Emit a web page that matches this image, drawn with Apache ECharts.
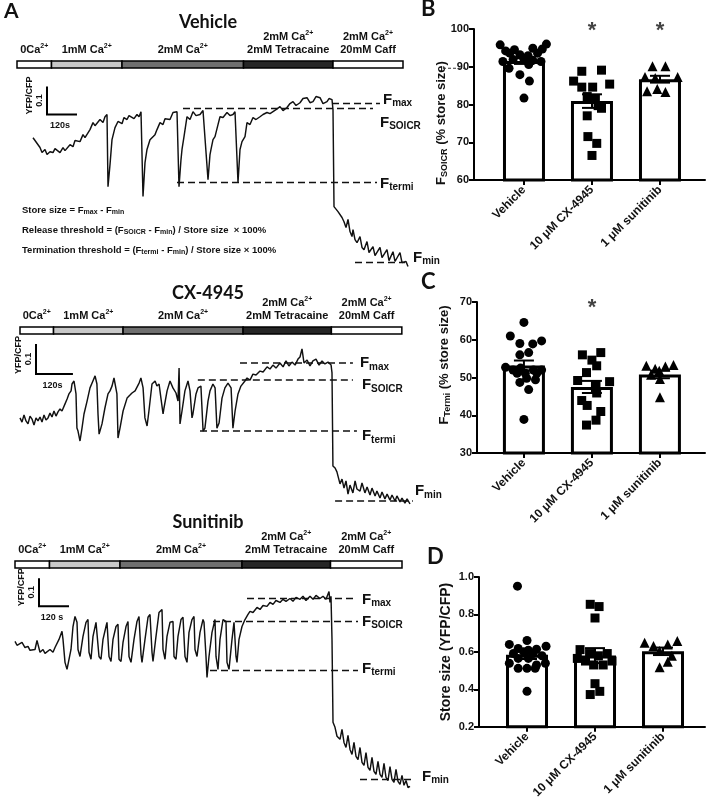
<!DOCTYPE html>
<html>
<head>
<meta charset="utf-8">
<script src="https://cdn.jsdelivr.net/npm/echarts@6/dist/echarts.min.js"></script>
<style>
html,body{margin:0;padding:0;background:#fff;}
#main{width:709px;height:801px;}
</style>
</head>
<body>
<div id="main"></div>
<script>
const ARIAL = '"Liberation Sans", Arial, sans-serif'
const HEAD = 'Lato, "Open Sans", sans-serif'

// ---- traces: [time (s), YFP/CFP] ----
const vehicleTrace = [
  [132,1.446],[140,1.436],[148,1.429],[160,1.411],[168,1.393],[180,1.404],[188,1.386],[200,1.396],[212,1.393],[220,1.407],
  [228,1.404],[240,1.393],[252,1.411],[260,1.4],[268,1.404],[280,1.421],[292,1.414],[300,1.436],[308,1.439],[320,1.432],
  [332,1.457],[340,1.446],[348,1.45],[360,1.475],[372,1.5],[380,1.489],[388,1.486],[400,1.511],[412,1.5],[420,1.521],
  [428,1.529],[432,1.271],[440,1.35],[448,1.439],[460,1.482],[472,1.504],[480,1.507],[488,1.496],[496,1.518],[508,1.511],
  [516,1.525],[524,1.521],[536,1.514],[548,1.529],[556,1.521],[564,1.539],[572,1.236],[580,1.357],[588,1.404],[600,1.439],
  [608,1.446],[620,1.457],[628,1.475],[640,1.5],[652,1.493],[660,1.514],[668,1.518],[680,1.511],[692,1.536],[700,1.529],
  [708,1.539],[716,1.271],[724,1.368],[728,1.404],[736,1.45],[748,1.521],[760,1.511],[772,1.539],[784,1.525],[800,1.529],
  [812,1.543],[820,1.546],[832,1.296],[840,1.386],[844,1.404],[852,1.439],[860,1.45],[872,1.493],[880,1.521],[892,1.518],
  [908,1.536],[920,1.525],[932,1.529],[940,1.539],[948,1.546],[952,1.286],[960,1.404],[968,1.432],[980,1.45],[988,1.5],
  [1000,1.493],[1012,1.518],[1024,1.511],[1040,1.521],[1052,1.529],[1068,1.536],[1080,1.532],[1092,1.539],[1104,1.546],[1120,1.557],
  [1132,1.543],[1148,1.554],[1160,1.568],[1172,1.575],[1184,1.561],[1200,1.571],[1212,1.586],[1228,1.589],[1240,1.571],[1252,1.575],
  [1264,1.593],[1280,1.589],[1292,1.568],[1308,1.575],[1316,1.586],[1328,1.582],[1332,1.546],[1336,1.2],[1344,1.193],[1352,1.182],
  [1360,1.175],[1368,1.161],[1376,1.146],[1384,1.125],[1392,1.154],[1400,1.111],[1408,1.093],[1412,1.118],[1420,1.082],[1428,1.071],
  [1440,1.093],[1448,1.054],[1456,1.046],[1468,1.075],[1476,1.036],[1484,1.029],[1492,1.057],[1500,1.025],[1508,1.018],[1520,1.054],
  [1528,1.018],[1536,1.011],[1548,1.046],[1556,1.007],[1564,1.004],[1572,1.039],[1580,1.004],[1588,1.0],[1600,1.036],[1608,1.0],
  [1616,0.993],[1624,1.004],[1632,0.986]
]
const cx4945Trace = [
  [65,1.277],[71.5,1.263],[78,1.287],[84.5,1.267],[91,1.257],[97.5,1.283],[104,1.273],[110.5,1.253],[117,1.277],[123.5,1.267],
  [130,1.28],[136.5,1.263],[143,1.287],[149.5,1.27],[156,1.277],[162.5,1.293],[169,1.28],[175.5,1.3],[182,1.283],[188.5,1.297],
  [195,1.307],[201.5,1.3],[211,1.323],[218,1.34],[224,1.357],[231,1.367],[234,1.39],[240.5,1.4],[247,1.357],[250,1.243],
  [253.5,1.233],[260,1.2],[266.5,1.243],[273,1.29],[283,1.333],[292.5,1.377],[302,1.4],[309,1.417],[315,1.39],[318.5,1.29],
  [322,1.223],[331.5,1.257],[341,1.31],[351,1.357],[357.5,1.367],[364,1.383],[370.5,1.41],[380,1.357],[383.5,1.21],[390,1.243],
  [400,1.3],[413,1.343],[422.5,1.353],[429,1.36],[439,1.367],[445,1.373],[452,1.393],[458,1.41],[465,1.377],[471,1.277],
  [478,1.25],[484,1.3],[494,1.39],[504,1.4],[510,1.383],[517,1.39],[523,1.343],[530,1.29],[533,1.31],[543,1.367],
  [552.5,1.4],[562,1.377],[572,1.36],[578.5,1.333],[582,1.443],[585,1.257],[591.5,1.3],[601,1.367],[611,1.4],[617.5,1.367],
  [624,1.277],[627,1.29],[637,1.357],[643.5,1.377],[653,1.383],[660,1.233],[666,1.243],[676,1.333],[682.5,1.367],[692,1.39],
  [699,1.377],[705,1.243],[712,1.26],[721.5,1.343],[731,1.377],[741,1.393],[751,1.377],[757,1.243],[764,1.3],[773.5,1.357],
  [783,1.383],[796,1.4],[803,1.41],[812.5,1.403],[822,1.423],[832,1.42],[845,1.433],[855,1.43],[868,1.447],[877.5,1.44],
  [887,1.453],[897,1.443],[910,1.46],[920,1.447],[929.5,1.467],[939,1.45],[949,1.463],[959,1.453],[968.5,1.473],[975,1.48],
  [981.5,1.507],[988,1.46],[998,1.47],[1007.5,1.45],[1017,1.467],[1027,1.473],[1037,1.453],[1046.5,1.467],[1056,1.457],[1066,1.463],
  [1076,1.453],[1079,1.427],[1082,1.117],[1089,1.11],[1095,1.097],[1105,1.057],[1111.5,1.073],[1118,1.043],[1124.5,1.067],[1131,1.023],
  [1137.5,1.053],[1147,1.027],[1154,1.067],[1160,1.04],[1170,1.033],[1176.5,1.06],[1186,1.027],[1193,1.047],[1202.5,1.02],[1209,1.043],
  [1219,1.017],[1225,1.033],[1235,1.01],[1241.5,1.03],[1251,1.007],[1258,1.023],[1267.5,1.003],[1274,1.02],[1284,1.0],[1290,1.017],
  [1300,0.997],[1306.5,1.01],[1316,0.993],[1323,1.007],[1332.5,0.99]
]
const sunitinibTrace = [
  [60,1.493],[68,1.479],[76,1.486],[88,1.489],[100,1.471],[112,1.475],[120,1.461],[128,1.457],[140,1.464],[148,1.496],
  [152,1.482],[160,1.454],[172,1.464],[180,1.45],[188,1.446],[200,1.464],[212,1.454],[220,1.471],[228,1.464],[236,1.5],
  [248,1.529],[252,1.5],[260,1.418],[268,1.393],[272,1.4],[284,1.464],[292,1.546],[300,1.582],[308,1.561],[312,1.464],
  [320,1.439],[332,1.511],[344,1.561],[352,1.571],[356,1.454],[364,1.429],[372,1.511],[384,1.561],[388,1.564],[396,1.439],
  [404,1.429],[412,1.5],[424,1.546],[428,1.561],[436,1.439],[444,1.421],[452,1.5],[464,1.546],[472,1.554],[476,1.429],
  [484,1.421],[492,1.489],[504,1.546],[512,1.564],[516,1.439],[524,1.418],[536,1.5],[548,1.564],[556,1.582],[564,1.446],
  [568,1.418],[580,1.5],[592,1.579],[600,1.589],[608,1.454],[612,1.421],[624,1.511],[636,1.596],[648,1.607],[652,1.464],
  [660,1.429],[668,1.511],[680,1.561],[692,1.564],[696,1.439],[704,1.429],[712,1.511],[724,1.571],[732,1.579],[740,1.439],
  [748,1.418],[756,1.525],[768,1.571],[776,1.582],[780,1.464],[788,1.439],[800,1.525],[812,1.571],[816,1.561],[824,1.439],
  [828,1.364],[836,1.439],[848,1.525],[860,1.571],[864,1.439],[872,1.393],[880,1.5],[892,1.571],[904,1.564],[908,1.418],
  [916,1.393],[928,1.5],[936,1.561],[944,1.439],[948,1.418],[956,1.5],[968,1.546],[980,1.571],[992,1.589],[1000,1.6],
  [1012,1.596],[1028,1.614],[1040,1.607],[1052,1.621],[1068,1.618],[1080,1.632],[1092,1.625],[1104,1.639],[1120,1.632],[1132,1.643],
  [1144,1.636],[1160,1.646],[1172,1.636],[1184,1.65],[1200,1.643],[1212,1.654],[1224,1.639],[1240,1.654],[1252,1.643],[1264,1.657],
  [1280,1.646],[1292,1.654],[1304,1.643],[1316,1.671],[1320,1.632],[1324,1.654],[1328,1.5],[1332,1.204],[1340,1.186],[1348,1.154],
  [1360,1.143],[1368,1.179],[1376,1.132],[1384,1.114],[1392,1.157],[1400,1.107],[1408,1.089],[1416,1.132],[1424,1.082],[1432,1.071],
  [1440,1.114],[1448,1.061],[1456,1.05],[1464,1.096],[1472,1.043],[1480,1.032],[1488,1.079],[1496,1.029],[1504,1.018],[1512,1.064],
  [1520,1.018],[1528,1.007],[1536,1.057],[1544,1.007],[1552,0.996],[1560,1.046],[1568,1.0],[1576,0.989],[1584,1.036],[1592,0.993],
  [1600,0.982],[1608,1.014],[1616,0.979],[1624,0.996],[1632,0.971],[1640,0.975]
]

// F levels: max, SOICR, termi, min (YFP/CFP) and their dashed spans (s)
const levelNames = ['max', 'SOICR', 'termi', 'min']
const vehicleLevels = [1.568, 1.55, 1.286, 1.0]
const vehicleLevelSpans = [[1328, 1520], [732, 1492], [708, 1508], [1420, 1620]]
const cx4945Levels = [1.46, 1.403, 1.233, 1.0]
const cx4945LevelSpans = [[780, 1147], [643, 1147], [650, 1160], [1089, 1342]]
const sunitinibLevels = [1.646, 1.564, 1.389, 1.0]
const sunitinibLevelSpans = [[988, 1412], [852, 1432], [840, 1432], [1440, 1660]]

// perfusion protocol (segment edges in s)
const protocolLabels = ['0Ca{sup|2+}', '1mM Ca{sup|2+}', '2mM Ca{sup|2+}', '2mM Ca{sup|2+}\n2mM Tetracaine', '2mM Ca{sup|2+}\n20mM Caff']
const vehicleProtocolEdges = [68, 206, 488, 974, 1332, 1612]
const cx4945ProtocolEdges = [65, 174, 400, 790, 1077, 1306]
const sunitinibProtocolEdges = [60, 198, 480, 968, 1322, 1608]
const scaleBarSec = 120
const scaleBarRatio = 0.1

// ---- summary panels ----
const groups = ['Vehicle', '10 \u03bcM CX-4945', '1 \u03bcM sunitinib']

const soicrMean = [91.5, 80.9, 86.7]
const soicrSem = [0.75, 1.8, 0.9]
const soicrVehicle = [95.8, 94.2, 94.5, 94.9, 94.7, 96.0, 93.6, 93.2, 92.9, 93.6, 91.4, 91.9, 92.0, 91.7, 91.4, 90.6, 89.6, 87.9, 86.2, 81.7]
const soicrCx = [86.2, 88.8, 89.1, 84.6, 84.6, 85.4, 82.1, 81.4, 79.7, 77.0, 79.0, 71.5, 69.7, 66.5]
const soicrSun = [90.1, 90.1, 87.3, 87.0, 87.3, 84.1, 83.5, 83.3]

const termiMean = [53.2, 47.5, 50.8]
const termiSem = [1.3, 1.6, 1.0]
const termiVehicle = [64.6, 61.0, 59.7, 59.0, 58.9, 56.6, 56.0, 52.7, 52.0, 52.5, 52.0, 52.0, 51.1, 51.1, 51.1, 49.8, 49.4, 48.7, 46.8, 38.9]
const termiCx = [56.0, 56.6, 54.6, 53.1, 51.3, 49.2, 48.9, 48.1, 45.9, 43.9, 42.6, 41.0, 38.7, 37.4]
const termiSun = [53.1, 52.3, 52.9, 53.3, 51.8, 50.7, 49.6, 44.8]

const storeMean = [0.584, 0.58, 0.603]
const storeSem = [0.022, 0.04, 0.02]
const storeVehicle = [0.951, 0.661, 0.640, 0.630, 0.618, 0.609, 0.614, 0.591, 0.600, 0.591, 0.579, 0.539, 0.565, 0.565, 0.539, 0.530, 0.512, 0.512, 0.512, 0.389]
const storeCx = [0.854, 0.842, 0.781, 0.612, 0.591, 0.579, 0.591, 0.565, 0.551, 0.530, 0.530, 0.551, 0.430, 0.389, 0.372]
const storeSun = [0.649, 0.632, 0.639, 0.658, 0.604, 0.579, 0.547, 0.518]

// horizontal scatter offsets of the dots (category units)
const soicrJitter = [
  [-0.35, -0.27, -0.14, 0.13, 0.27, 0.33, -0.21, -0.06, 0.06, 0.2, -0.31, -0.16, 0.0, 0.13, 0.25, 0.07, -0.22, -0.06, 0.08, 0.0],
  [-0.27, -0.15, 0.14, -0.15, 0.01, 0.26, -0.07, 0.05, 0.09, -0.07, 0.14, -0.06, 0.07, 0.0],
  [-0.11, 0.08, -0.22, -0.07, 0.26, -0.04, -0.19, 0.08]
]
const termiJitter = [
  [0.0, -0.2, 0.26, -0.06, 0.13, 0.07, -0.06, -0.27, -0.16, -0.05, 0.14, 0.26, -0.1, 0.02, 0.19, 0.04, 0.17, -0.06, 0.07, 0.0],
  [-0.14, 0.13, 0.0, 0.07, -0.08, -0.21, 0.26, 0.06, 0.07, -0.15, -0.07, 0.13, 0.06, -0.08],
  [-0.2, -0.07, 0.08, 0.2, -0.01, -0.13, 0.0, 0.0]
]
const storeJitter = [
  [-0.14, 0.0, -0.26, 0.28, -0.13, 0.02, 0.14, -0.2, -0.05, 0.09, 0.22, -0.26, -0.13, 0.02, 0.27, 0.14, -0.13, 0.0, 0.12, 0.0],
  [-0.07, 0.06, 0.0, -0.22, -0.08, 0.05, 0.18, -0.26, -0.14, -0.02, 0.12, 0.25, 0.0, 0.07, -0.07],
  [-0.27, -0.14, 0.07, 0.21, -0.05, 0.13, 0.07, -0.05]
]

// ---- layout ----
const traces = [
  {title: 'Vehicle', titleY: 22, data: vehicleTrace, levels: vehicleLevels, spans: vehicleLevelSpans, edges: vehicleProtocolEdges,
   top: 61, yMin: 0.95, yMax: 1.72, pxPerUnit: 280, secPerPx: 4, bar: [188, 1.529], barText: '120s',
   labelOffsets: [[3, -4], [7, 14], [3, 1], [8, -5]]},
  {title: 'CX-4945', titleY: 293, data: cx4945Trace, levels: cx4945Levels, spans: cx4945LevelSpans, edges: cx4945ProtocolEdges,
   top: 327, yMin: 0.95, yMax: 1.58, pxPerUnit: 300, secPerPx: 3.25, bar: [117, 1.423], barText: '120s',
   labelOffsets: [[7, 0], [9, 5], [5, 5], [2, -10]]},
  {title: 'Sunitinib', titleY: 522, data: sunitinibTrace, levels: sunitinibLevels, spans: sunitinibLevelSpans, edges: sunitinibProtocolEdges,
   top: 561, yMin: 0.95, yMax: 1.78, pxPerUnit: 280, secPerPx: 4, bar: [156, 1.618], barText: '120 s',
   labelOffsets: [[9, 1], [4, 0], [4, -2], [7, -3]]}
]
const panels = [
  {letter: 'B', top: 29, left: 474, height: 151, xMin: -0.735, yMin: 60, yMax: 100, step: 10, mean: soicrMean, sem: soicrSem,
   pts: [soicrVehicle, soicrCx, soicrSun], jit: soicrJitter, stars: [[1, 99.5], [2, 99.5]],
   name: '{f|F}{s|SOICR}{f| (% store size)}', nameY: 123, nameSize: 13},
  {letter: 'C', top: 302, left: 477, height: 151, xMin: -0.69, yMin: 30, yMax: 70, step: 10, mean: termiMean, sem: termiSem,
   pts: [termiVehicle, termiCx, termiSun], jit: termiJitter, stars: [[1, 68.5]],
   name: '{f|F}{s|Termi}{f| (% store size)}', nameY: 365, nameSize: 13},
  {letter: 'D', top: 577, left: 479, height: 152, xMin: -0.706, yMin: 0.2, yMax: 1.0, step: 0.2, mean: storeMean, sem: storeSem,
   pts: [storeVehicle, storeCx, storeSun], jit: storeJitter, stars: [],
   name: '{f|Store size (YFP/CFP)}', nameY: 652, nameSize: 14}
]
const shades = ['#ffffff', '#c8c8c8', '#6f6f6f', '#262626', '#ffffff']
const symbols = ['circle', 'rect', 'triangle']
const INK = '#111'

const subRich = {
  f: {fontSize: 15, fontWeight: 'bold', fontFamily: ARIAL, color: INK},
  s: {fontSize: 10, fontWeight: 'bold', fontFamily: ARIAL, color: INK, padding: [8, 0, 0, 0]}
}
const supRich = {sup: {fontSize: 7, fontWeight: 'bold', fontFamily: ARIAL, fill: INK, padding: [0, 0, 6, 0]}}

function renderProtocol(params, api) {
  const i = params.dataIndex
  const a = api.coord([api.value(0), 1])[0]
  const b = api.coord([api.value(1), 1])[0]
  const top = params.coordSys.y
  return {type: 'group', children: [
    {type: 'rect', shape: {x: a, y: top, width: b - a, height: 7}, style: {fill: shades[i], stroke: '#000', lineWidth: 1.5}},
    {type: 'text', x: (a + b) / 2, y: top - 5, style: {text: protocolLabels[i], rich: supRich, align: 'center', verticalAlign: 'bottom',
      fontSize: 11, fontWeight: 'bold', fontFamily: ARIAL, lineHeight: 13, fill: INK}}
  ]}
}

function scaleBarRenderer(label) {
  return function (params, api) {
    const t0 = api.value(0), r0 = api.value(1)
    const c = api.coord([t0, r0])
    const up = api.coord([t0, r0 + scaleBarRatio])
    const right = api.coord([t0 + scaleBarSec, r0])
    const txt = {fontSize: 9, fontWeight: 'bold', fontFamily: ARIAL, fill: INK, align: 'center', verticalAlign: 'middle'}
    return {type: 'group', children: [
      {type: 'polyline', shape: {points: [up, c, right]}, style: {stroke: '#000', lineWidth: 2, fill: 'none'}},
      {type: 'text', x: c[0] - 7, y: (up[1] + c[1]) / 2, rotation: Math.PI / 2, style: Object.assign({text: '0.1'}, txt)},
      {type: 'text', x: c[0] - 17, y: c[1] - 19, rotation: Math.PI / 2, style: Object.assign({text: 'YFP/CFP'}, txt)},
      {type: 'text', x: (c[0] + right[0]) / 2 - 2, y: c[1] + 11, style: Object.assign({text: label}, txt)}
    ]}
  }
}

function renderErrorBar(params, api) {
  const x = api.value(0), m = api.value(1), s = api.value(2)
  const hi = api.coord([x, m + s]), lo = api.coord([x, m - s])
  const st = {stroke: '#000', lineWidth: 2}
  return {type: 'group', children: [
    {type: 'line', shape: {x1: hi[0], y1: hi[1], x2: lo[0], y2: lo[1]}, style: st},
    {type: 'line', shape: {x1: hi[0] - 10, y1: hi[1], x2: hi[0] + 10, y2: hi[1]}, style: st},
    {type: 'line', shape: {x1: lo[0] - 10, y1: lo[1], x2: lo[0] + 10, y2: lo[1]}, style: st}
  ]}
}

const grid = [], xAxis = [], yAxis = [], series = [], graphic = []

traces.forEach((tr, i) => {
  grid.push({left: 0, top: tr.top, width: 420, height: (tr.yMax - tr.yMin) * tr.pxPerUnit})
  xAxis.push({gridIndex: i, type: 'value', min: 0, max: 420 * tr.secPerPx, show: false})
  yAxis.push({gridIndex: i, type: 'value', min: tr.yMin, max: tr.yMax, show: false})
  series.push({type: 'line', xAxisIndex: i, yAxisIndex: i, data: tr.data, symbol: 'none', z: 3,
    lineStyle: {color: INK, width: 1.45}})
  tr.levels.forEach((lv, k) => {
    series.push({type: 'line', xAxisIndex: i, yAxisIndex: i, symbol: 'none', z: 4,
      data: [[tr.spans[k][0], lv], [tr.spans[k][1], lv]],
      lineStyle: {color: INK, width: 1.5, type: [7, 4]},
      endLabel: {show: true, distance: 0, offset: tr.labelOffsets[k], formatter: '{f|F}{s|' + levelNames[k] + '}', rich: subRich}})
  })
  const segs = tr.edges.slice(0, -1).map((e, k) => [e, tr.edges[k + 1]])
  series.push({type: 'custom', xAxisIndex: i, yAxisIndex: i, data: segs, renderItem: renderProtocol, z: 5})
  series.push({type: 'custom', xAxisIndex: i, yAxisIndex: i, data: [tr.bar], renderItem: scaleBarRenderer(tr.barText), z: 5})
  graphic.push({type: 'text', x: 208, y: tr.titleY, style: {text: tr.title, fontSize: 18, fontWeight: 'bold',
    fontFamily: HEAD, fill: INK, align: 'center', verticalAlign: 'middle'}})
})

panels.forEach((p, j) => {
  const g = 3 + j
  grid.push({left: p.left, top: p.top, width: 705 - p.left, height: p.height})
  xAxis.push({gridIndex: g, type: 'value', min: p.xMin, max: p.xMin + (705 - p.left) / 68,
    axisLine: {show: true, onZero: false, lineStyle: {color: '#000', width: 2}},
    axisTick: {show: true, customValues: [0, 1, 2], length: 5, lineStyle: {color: '#000', width: 2}},
    axisLabel: {show: true, customValues: [0, 1, 2], rotate: 45, margin: 8, formatter: v => groups[Math.round(v)],
      fontFamily: ARIAL, fontWeight: 'bold', fontSize: 12, color: INK},
    splitLine: {show: false}})
  yAxis.push({gridIndex: g, type: 'value', min: p.yMin, max: p.yMax, interval: p.step,
    axisLine: {show: true, onZero: false, lineStyle: {color: '#000', width: 2}},
    axisTick: {show: true, length: 5, lineStyle: {color: '#000', width: 2}},
    axisLabel: {margin: 5, fontFamily: ARIAL, fontWeight: 'bold', fontSize: 11, color: INK,
      formatter: v => (p.step < 1 ? v.toFixed(1) : String(v))},
    splitLine: {show: false}})
  series.push({type: 'bar', xAxisIndex: g, yAxisIndex: g, barWidth: 42, z: 2,
    data: p.mean.map((m, k) => [k, m]),
    itemStyle: {color: '#fff', borderColor: '#000', borderWidth: 3}})
  series.push({type: 'custom', xAxisIndex: g, yAxisIndex: g, z: 3, renderItem: renderErrorBar,
    data: p.mean.map((m, k) => [k, m, p.sem[k]])})
  p.pts.forEach((vals, k) => {
    series.push({type: 'scatter', xAxisIndex: g, yAxisIndex: g, z: 4, symbol: symbols[k], symbolSize: k === 2 ? 10 : 9,
      itemStyle: {color: '#000', opacity: 1}, data: vals.map((v, n) => [k + p.jit[k][n], v])})
  })
  if (p.stars.length) {
    series.push({type: 'scatter', xAxisIndex: g, yAxisIndex: g, z: 4, symbolSize: 1, itemStyle: {color: 'transparent'},
      data: p.stars, label: {show: true, position: 'inside', formatter: '*', fontSize: 22, fontWeight: 'bold', fontFamily: ARIAL, color: INK}})
  }
  graphic.push({type: 'text', x: p.left - 33, y: p.nameY, rotation: Math.PI / 2,
    style: {text: p.name, rich: {
      f: {fontSize: p.nameSize, fontWeight: 'bold', fontFamily: ARIAL, fill: INK},
      s: {fontSize: 9, fontWeight: 'bold', fontFamily: ARIAL, fill: INK, padding: [7, 0, 0, 0]}},
      align: 'center', verticalAlign: 'middle'}})
  graphic.push({type: 'text', x: 421 + (j === 2 ? 6 : 0), y: p.top - 20, style: {text: p.letter, fontSize: 22, fontWeight: 'bold',
    fontFamily: HEAD, fill: INK, verticalAlign: 'middle'}})
})

// short dashed guide left of the B axis
series.push({type: 'custom', xAxisIndex: 3, yAxisIndex: 3, data: [[0, 89.6]], z: 5,
  renderItem: (params, api) => {
    const y = api.coord([0, api.value(1)])[1]
    return {type: 'line', shape: {x1: params.coordSys.x - 31, y1: y, x2: params.coordSys.x - 6, y2: y},
      style: {stroke: '#333', lineWidth: 1, lineDash: [3, 2]}}
  }})

const formulaRich = {s: {fontSize: 7, fontWeight: 'bold', fontFamily: ARIAL, fill: INK, padding: [5, 0, 0, 0]}}
const formulaLines = [
  'Store size = F{s|max} - F{s|min}',
  'Release threshold = (F{s|SOICR} - F{s|min}) / Store size  \u00d7 100%',
  'Termination threshold = (F{s|termi} - F{s|min}) / Store size \u00d7 100%'
]
formulaLines.forEach((t, k) => {
  graphic.push({type: 'text', x: 22, y: 210 + k * 20, style: {text: t, rich: formulaRich, fontSize: 9.5, fontWeight: 'bold',
    fontFamily: ARIAL, fill: INK, verticalAlign: 'middle'}})
})
graphic.push({type: 'text', x: 4, y: 11, style: {text: 'A', fontSize: 21, fontWeight: 'bold', fontFamily: HEAD, fill: INK, verticalAlign: 'middle'}})

const chart = echarts.init(document.getElementById('main'), null, {renderer: 'canvas'})
chart.setOption({
  animation: false,
  backgroundColor: '#fff',
  textStyle: {fontFamily: ARIAL},
  grid, xAxis, yAxis, series, graphic
})
</script>
</body>
</html>
